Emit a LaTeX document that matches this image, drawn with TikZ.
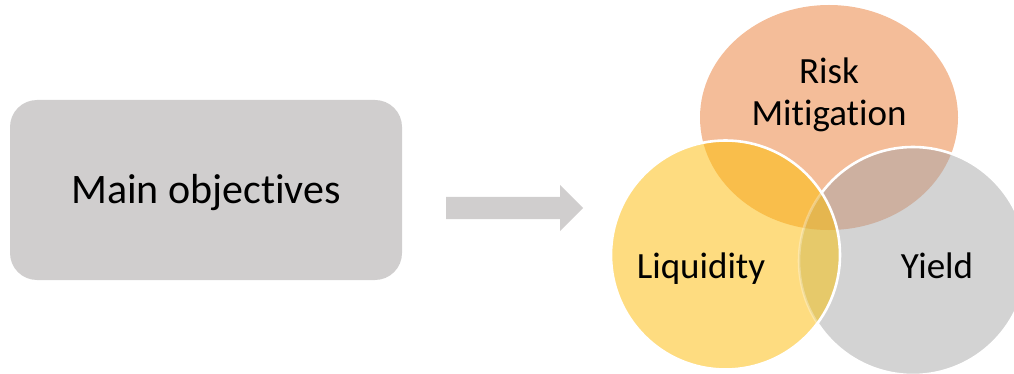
\documentclass[tikz,border=0pt]{standalone}
\usepackage{fontspec}
\setmainfont{Carlito}[Ligatures=NoCommon]
\definecolor{boxgray}{HTML}{D0CECE}
\definecolor{cR}{HTML}{F4BD99}
\definecolor{cL}{HTML}{FEDC80}
\definecolor{cY}{HTML}{D3D3D3}
\definecolor{cRL}{HTML}{F9BE4B}
\definecolor{cRY}{HTML}{CDB0A0}
\definecolor{cLY}{HTML}{E6C96A}
\definecolor{cRLY}{HTML}{E5B64F}
\tikzset{
  riskshape/.style={insert path={(829,117.5) ellipse [x radius=129pt, y radius=112.5pt]}},
  liqshape/.style={insert path={(725.5,255) circle [radius=114.5pt]}},
  yieldshape/.style={insert path={(913,261) circle [radius=114pt]}},
  mainbox/.style={fill=boxgray, rounded corners=27pt, minimum width=392pt, minimum height=180pt,
    inner sep=0pt, text height=27pt, text depth=0pt, font=\fontsize{42}{50}\selectfont},
  lbl/.style={inner sep=0pt, anchor=base, font=\fontsize{37}{43}\selectfont},
  rim/.style={draw=white, line width=2.6pt},
}
\begin{document}
\begin{tikzpicture}[x=1pt,y=-1pt]
\useasboundingbox (0,0) rectangle (1014,374);
% left box
\node[mainbox] (main) at (206,190) {Main objectives};
% block arrow
\fill[boxgray] (446,197) -- (560,197) -- (560,185) -- (583,208) -- (560,231) -- (560,219) -- (446,219) -- cycle;
% Risk
\fill[cR, riskshape];
% Yield
\fill[cY, yieldshape];
\begin{scope}
  \clip[riskshape];
  \fill[cRY, yieldshape];
\end{scope}
\path[rim, yieldshape];
% Liquidity
\fill[cL, liqshape];
\begin{scope}
  \clip[liqshape];
  \begin{scope}
    \clip[riskshape];
    \fill[cRL, liqshape];
  \end{scope}
  \fill[cLY, yieldshape];
  \begin{scope}
    \clip[riskshape];
    \fill[cRLY, yieldshape];
  \end{scope}
  \path[draw=white, draw opacity=0.3, line width=2.6pt, yieldshape];
\end{scope}
\path[rim, liqshape];
% labels
\node[lbl] (risk) at (829,84) {Risk};
\node[lbl] (mitig) at (829,126) {Mitigation};
\node[lbl] (liq) at (701,278) {Liquidity};
\node[lbl] (yield) at (937,278) {Yield};
\end{tikzpicture}
\end{document}
